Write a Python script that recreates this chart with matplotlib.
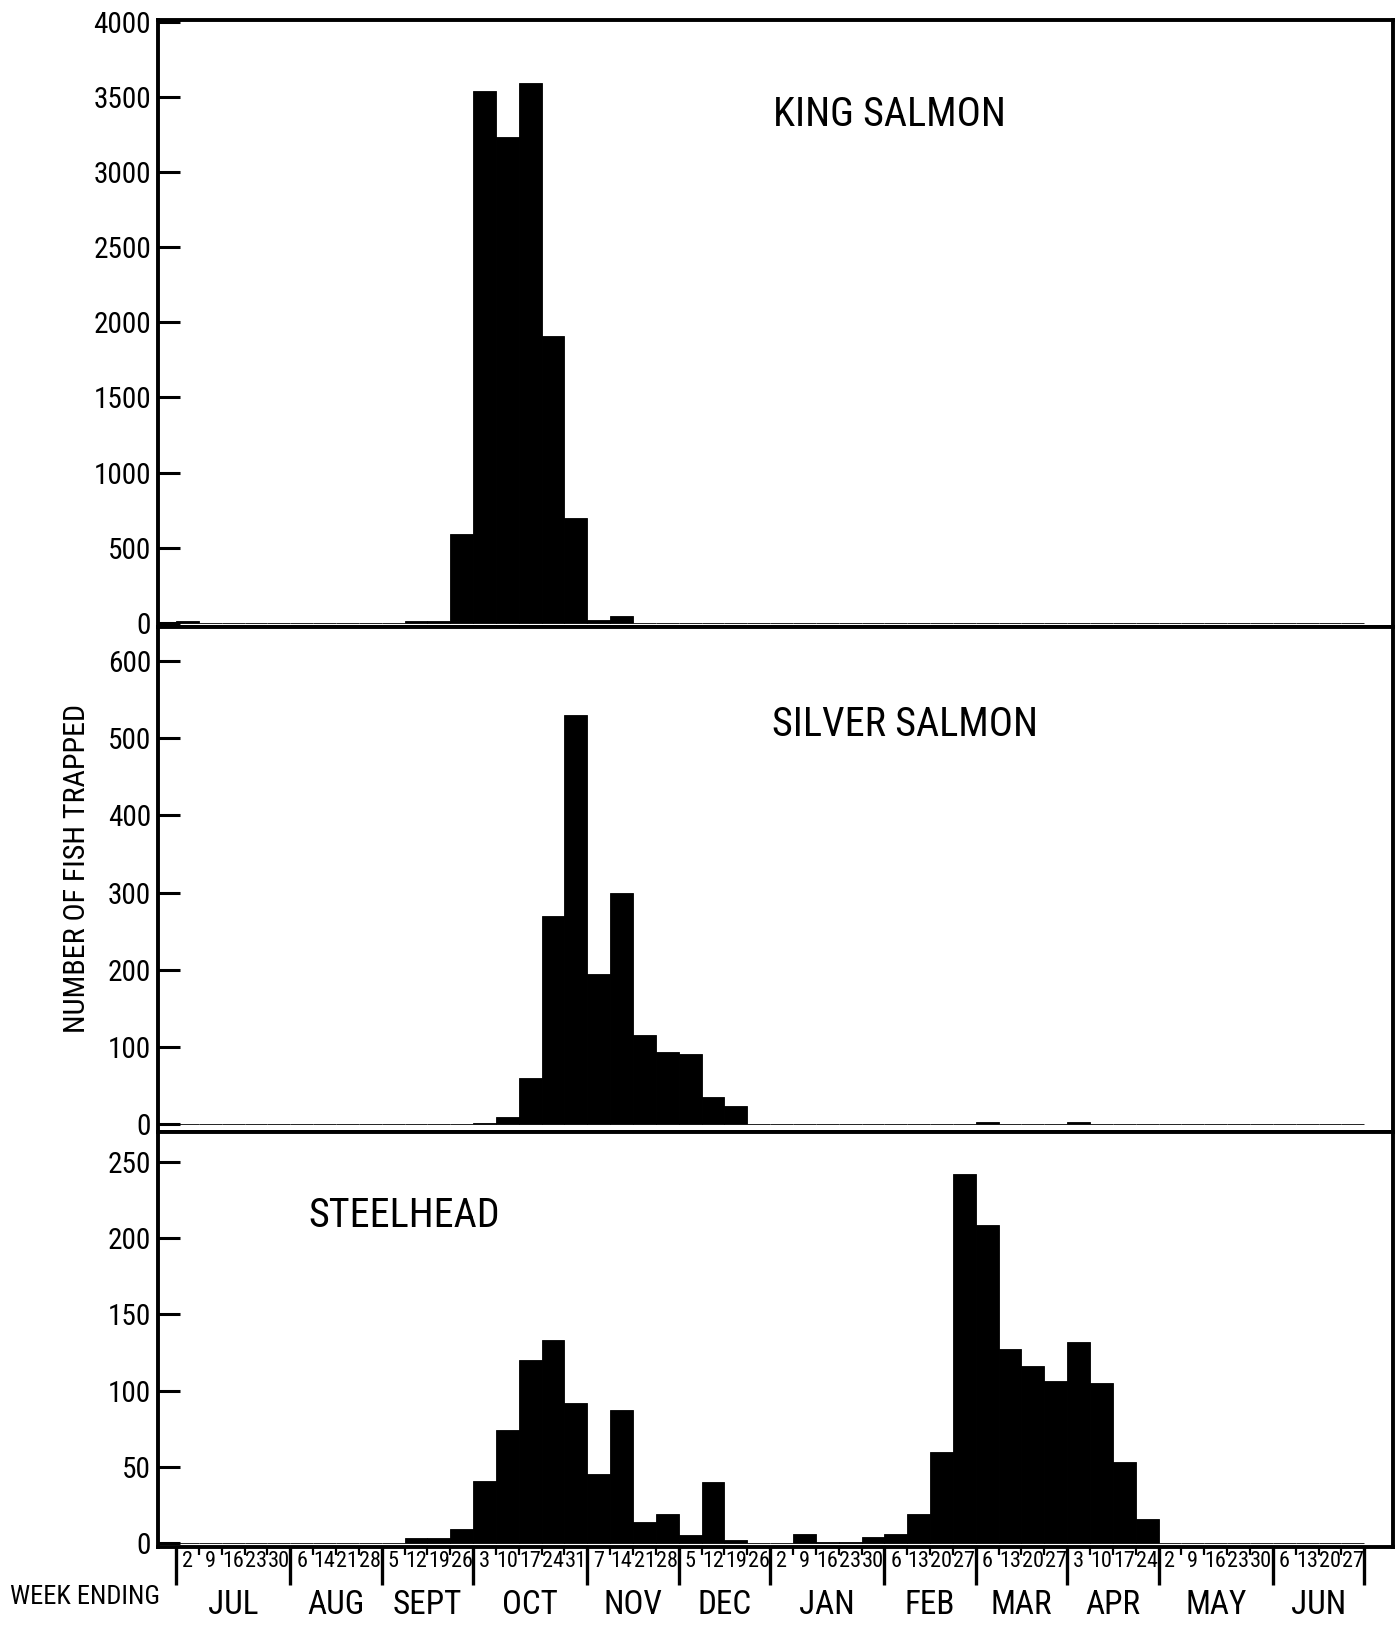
import matplotlib
matplotlib.use("Agg")
import matplotlib.pyplot as plt
from matplotlib import font_manager as fm
import numpy as np

# ---------------- data ----------------
months = ["JUL", "AUG", "SEPT", "OCT", "NOV", "DEC", "JAN", "FEB", "MAR", "APR", "MAY", "JUN"]
week_days = [
    [2, 9, 16, 23, 30],
    [6, 14, 21, 28],
    [5, 12, 19, 26],
    [3, 10, 17, 24, 31],
    [7, 14, 21, 28],
    [5, 12, 19, 26],
    [2, 9, 16, 23, 30],
    [6, 13, 20, 27],
    [6, 13, 20, 27],
    [3, 10, 17, 24],
    [2, 9, 16, 23, 30],
    [6, 13, 20, 27],
]

king_salmon = [15, 0, 0, 0, 0, 0, 0, 0, 0, 0,
               12, 12, 590, 3540, 3230, 3590, 1910, 700, 20, 45,
               0, 0, 0, 0, 0, 0, 0, 0, 0, 0,
               0, 0, 0, 0, 0, 0, 0, 0, 0, 0,
               0, 0, 0, 0, 0, 0, 0, 0, 0, 0,
               0, 0]

silver_salmon = [0, 0, 0, 0, 0, 0, 0, 0, 0, 0,
                 0, 0, 0, 2, 10, 60, 270, 530, 195, 300,
                 115, 94, 91, 35, 24, 0, 0, 0, 0, 0,
                 0, 0, 0, 0, 0, 3, 0, 0, 0, 3,
                 0, 0, 0, 0, 0, 0, 0, 0, 0, 0,
                 0, 0]

steelhead = [0, 0, 0, 0, 0, 0, 0, 0, 0, 0,
             3, 3, 9, 41, 74, 120, 133, 92, 45, 87,
             14, 19, 5, 40, 2, 0, 0, 6, 1, 1,
             4, 6, 19, 60, 242, 209, 127, 116, 106, 132,
             105, 53, 16, 0, 0, 0, 0, 0, 0, 0,
             0, 0]

king_ticks = [0, 500, 1000, 1500, 2000, 2500, 3000, 3500, 4000]
silver_ticks = [0, 100, 200, 300, 400, 500, 600]
steel_ticks = [0, 50, 100, 150, 200, 250]

# ---------------- font choice (prefer a narrow/condensed face) ----------------
_fonts = fm.fontManager.ttflist
_names = {f.name for f in _fonts}
FAMILY = None
STRETCH = "normal"
for cand in ["Liberation Sans Narrow", "Roboto Condensed", "DejaVu Sans Condensed",
             "Noto Sans Condensed", "Open Sans Condensed", "Arial Narrow"]:
    if cand in _names:
        FAMILY = cand
        break
if FAMILY is None:
    for base in ["DejaVu Sans", "Noto Sans", "Roboto", "Open Sans", "Liberation Sans"]:
        ok = [f for f in _fonts if f.name == base and f.style == "normal"
              and str(f.stretch) in ("condensed", "semi-condensed", "extra-condensed")]
        if ok:
            FAMILY = base
            STRETCH = "condensed"
            break
if FAMILY is None:
    FAMILY = "Liberation Sans" if "Liberation Sans" in _names else "DejaVu Sans"

FONT = [FAMILY, "DejaVu Sans"]
plt.rcParams["font.family"] = FONT
plt.rcParams["font.stretch"] = STRETCH

W, H = 1398, 1630
fig = plt.figure(figsize=(W / 100, H / 100), dpi=100)
renderer = fig.canvas.get_renderer()


def fit_width(t, target, vertical=False):
    bb = t.get_window_extent(renderer)
    size = bb.height if vertical else bb.width
    if size > 0:
        t.set_fontsize(t.get_fontsize() * target / size)
    return t.get_fontsize()


def probe_size(s, target):
    p = fig.text(0, 0, s, fontsize=20, fontfamily=FONT, fontstretch=STRETCH)
    fs = fit_width(p, target)
    p.remove()
    return fs


left = 158 / W
width = (1393 - 158) / W


def make_axes(top_px, bottom_px):
    return fig.add_axes([left, (H - bottom_px) / H, width, (bottom_px - top_px) / H])


ax_k = make_axes(20, 627)
ax_s = make_axes(627, 1132)
ax_t = make_axes(1132, 1547)

n_weeks = len(king_salmon)
x = np.arange(n_weeks)
xlim = (-0.79, 53.26)

tick_fs = probe_size("4000", 58)

panels = [
    (ax_k, king_salmon, king_ticks, (-27, 4010), "KING SALMON", (31.2, 3384), 233),
    (ax_s, silver_salmon, silver_ticks, (-10, 644), "SILVER SALMON", (31.9, 518), 266),
    (ax_t, steelhead, steel_ticks, (-2.6, 269.7), "STEELHEAD", (10.0, 215), 191),
]

for ax, vals, ticks, ylim, title, tpos, tw in panels:
    ax.bar(x, vals, width=1.0, align="edge", color="black",
           edgecolor="black", linewidth=0.6)
    ax.set_xlim(*xlim)
    ax.set_ylim(*ylim)
    ax.set_yticks(ticks)
    ax.set_yticklabels([str(t) for t in ticks], fontfamily=FONT,
                       fontstretch=STRETCH, fontsize=tick_fs)
    ax.tick_params(axis="y", direction="in", length=16, width=2.2, pad=5,
                   colors="black")
    for sp in ax.spines.values():
        sp.set_linewidth(2.8)
        sp.set_color("black")
    t = ax.text(tpos[0], tpos[1], title, fontsize=29, fontfamily=FONT,
                fontstretch=STRETCH, ha="center", va="center", color="black")
    fit_width(t, tw)
    ax.set_xticks([])

# bottom axis: week boundaries and labels
month_bounds = [0]
for wd in week_days:
    month_bounds.append(month_bounds[-1] + len(wd))
minor_bounds = [b for b in range(n_weeks + 1) if b not in month_bounds]

ax_t.set_xticks(month_bounds)
ax_t.set_xticks(minor_bounds, minor=True)
ax_t.set_xticklabels([])
ax_t.tick_params(axis="x", which="major", direction="out", length=27, width=2.4)
ax_t.tick_params(axis="x", which="minor", direction="out", length=6, width=1.6)

day_fs = probe_size("30", 22)
month_fs = probe_size("OCT", 56)

xt = ax_t.get_xaxis_transform()
idx = 0
for m, wd in zip(months, week_days):
    for d in wd:
        ax_t.text(idx + 0.5, -0.035, str(d), transform=xt, fontsize=day_fs,
                  fontfamily=FONT, fontstretch=STRETCH, ha="center", va="center")
        idx += 1
    center = idx - len(wd) / 2
    ax_t.text(center, -0.14, m, transform=xt, fontsize=month_fs,
              fontfamily=FONT, fontstretch=STRETCH, ha="center", va="center")

we = fig.text(85 / W, (H - 1597) / H, "WEEK ENDING", fontsize=18, fontfamily=FONT,
              fontstretch=STRETCH, ha="center", va="center")
fit_width(we, 150)
yl = fig.text(77 / W, (H - 868) / H, "NUMBER OF FISH TRAPPED", fontsize=21,
              fontfamily=FONT, fontstretch=STRETCH, rotation=90,
              ha="center", va="center")
fit_width(yl, 330, vertical=True)

fig.savefig("out.png", dpi=100, facecolor="white")
